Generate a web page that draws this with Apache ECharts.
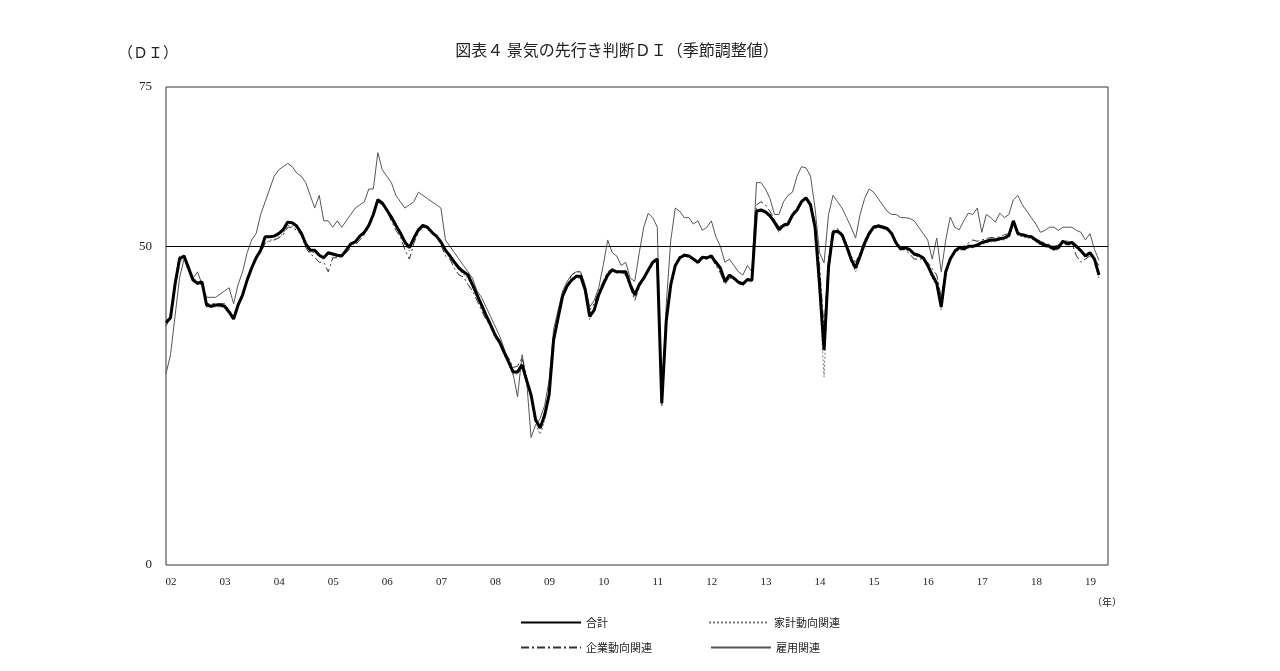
<!DOCTYPE html>
<html><head><meta charset="utf-8">
<script src="https://cdn.jsdelivr.net/npm/echarts@6/dist/echarts.min.js"></script>
<style>html,body{margin:0;padding:0;background:#fff}#c{width:1280px;height:671px}</style>
</head><body><div id="c"></div>
<script>
const total = [
38,38.8,44,48,48.5,46.6,44.7,44.2,44.4,40.8,40.6,40.8,
40.8,40.6,39.7,38.6,40.8,42.4,44.7,46.6,48.2,49.4,51.5,51.5,
51.6,52,52.6,53.8,53.7,53.2,52.1,50.4,49.4,49.4,48.6,48.2,
49,48.8,48.6,48.5,49.4,50.4,50.7,51.6,52.2,53.3,55,57.3,
56.8,55.7,54.6,53.3,52.1,50.7,49.8,51.3,52.6,53.3,53,52.2,
51.6,50.7,49.4,48.5,47.5,46.6,46,45.5,44,42.4,40.8,39.2,
37.7,36.1,35,33.4,31.9,30.3,30.3,31.4,29,26.7,22.8,21.5,
23.5,26.7,35.3,38.8,42.2,43.8,44.7,45.3,45.3,43.2,39,40,
42.4,44,45.5,46.3,46,46,46,44,42.4,44,45,46.3,
47.5,48,25.4,38.4,44,47,48.2,48.6,48.5,48,47.5,48.3,
48.2,48.5,47.5,46.6,44.5,45.5,45,44.4,44.1,44.8,44.7,55.5,
55.7,55.4,54.8,53.8,52.6,53.3,53.5,54.9,55.7,57,57.6,56.5,
53,44,33.7,46.8,52.2,52.4,51.8,50,48,46.6,48.5,50.5,
52,53,53.2,53,52.8,52,50.5,49.6,49.8,49.5,48.8,48.6,
48.2,47,45.5,44.2,40.5,46,48,49.2,49.8,49.6,50,50,
50.2,50.6,50.8,51,51,51.2,51.3,51.7,54,52,51.8,51.6,
51.5,51,50.5,50.2,50,49.6,49.8,50.8,50.4,50.6,50,49.3,
48.5,49,48,45.5];
const household = [
38.5,38.5,43.5,47.5,48,46,44.5,44,44,40.5,40.5,40.5,
40.5,40.5,39.5,38.5,40.5,42,44.5,46.5,48,49,50.5,51,
51,51.5,52,53.3,53.2,52.8,51.8,50,49,49,48.5,48,
48.8,48.5,48.4,48.3,49.2,50.2,50.5,51.4,52,53,54.7,57,
56.5,55.5,54.3,53,51.8,50.2,49.3,51,52.4,53,52.8,52,
51.4,50.5,49,48.2,47.2,46.3,45.6,45,43.6,42,40.4,38.8,
37.3,35.7,34.6,33,31.5,29.8,30,31,28.5,26,22,20.5,
22.5,26,35,38.5,42,43.5,44.5,45,45,43,38.5,39.8,
42.2,43.8,45.3,46.1,45.8,45.8,45.8,43.7,42,43.8,44.8,46,
47.2,47.8,25,38,43.8,46.8,48,48.4,48.3,47.8,47.2,48,
48,48.3,47.2,46.3,44.2,45.2,44.8,44.1,43.8,44.5,44.4,55.2,
55.5,55.2,54.5,53.5,52.2,53,53.2,54.6,55.5,56.8,57.4,56.2,
52.5,42,29.5,45.5,51.8,52,51.5,49.6,47.5,46,48,50,
51.6,52.7,53,52.8,52.5,51.8,50.2,49.3,49.5,49.2,48.5,48.3,
48,46.7,45,43.8,40,45.5,47.7,49,49.5,49.3,49.7,49.8,
50,50.3,50.5,50.7,50.8,51,51,51.4,53.5,51.7,51.5,51.3,
51.2,50.7,50.2,49.9,49.7,49.3,49.5,50.5,50.1,50.3,49.7,49,
48.2,48.7,47.7,45];
const corporate = [
37.5,39,44.5,48.5,48.5,47,45,44.5,44.5,41,41,41,
41,41,40,39,41,42.5,45,46.5,48,49,50.5,50.8,
51,51.3,51.8,53,53,52.5,51.8,49.8,48.8,48.3,47.5,47.5,
46,48.2,48.2,48.5,49,49.8,50.2,51,51.8,53,55,57,
56.5,55.5,54,52.5,51.5,49.5,48,50.5,52.2,53,52.8,52,
51.5,50.2,48.5,48,46.5,45.5,45.2,44,43,41.5,40,38.5,
37.5,36,35.2,33.5,32.5,31,31.2,32.5,29.5,26,23,21.5,
24,27,35,38.5,42.5,44,45.5,46,46,43.5,40,41,
43,44.5,46,46.5,46,46,45.5,43.5,41.5,43.5,45,46,
47.3,48,26,38,44,47,48.5,48.8,48.5,48,47.5,48,
48,48.2,47,45.8,44,45,44.8,44.2,44,45,44.5,56.5,
57,56.5,55.5,54.2,53,53.5,53.8,55.2,56,57.3,57.5,56.5,
54,47,37,48,52.5,52.8,52,50.4,48.5,47.5,49,51,
52.3,53.2,53.4,53.2,53,52.2,50.8,49.5,49.5,48.8,48,48,
48,47.5,46.5,45.5,42,46.5,48.2,49.5,50,50,50.5,51,
50.8,51,51.2,51.4,51.3,51.5,51.8,52,53.5,52.2,52,51.8,
51.5,51.2,50.8,50.5,50.3,50,50.2,51,50.8,50.5,48.5,47.5,
48,48.5,48,47];
const employment = [
30,33,39,45,48,47,45,46,44,42,42,42,
42.5,43,43.5,41,44,46,49,51,52,55,57,59,
61,62,62.5,63,62.5,61.5,61,60,58,56,58,54,
54,53,54,53,54,55,56,56.5,57,59,59,64.7,
62,61,60,58,57,56,56.5,57,58.5,58,57.5,57,
56.5,56,51,50,49,48,47,46,45,43,42,40.5,
39,37.5,36,34,32,30,26.4,33,29,20,22,23,
25,29,37,40,43,44.5,45.5,46,46,44,40.5,41.5,
43.5,47,51,49,48.5,47,47.5,45,44.5,49,53,55.2,
54.5,53,25,41,51,56,55.5,54.5,54.5,53.5,54,52.5,
53,54,51.5,50,47.5,48,47,46,45.5,47,46,60,
60,59,57.5,55,55,57,58,58.5,61,62.5,62.3,61,
56,49,47.4,55,58,57,56,54.5,53,51.3,55,57.5,
59,58.5,57.5,56.5,55.5,55,55,54.5,54.5,54.4,54,53,
52,51,48,51.3,46,51,54.6,53,52.6,54,55.2,55,
56,52.2,55,54.5,53.8,55.2,54.5,55,57.3,58,56.5,55.5,
54.5,53.5,52.2,52.5,53,53,52.5,53,53,53,52.5,52.2,
51,52,49.5,47.8];
const seriesNames = ['合計','家計動向関連','企業動向関連','雇用関連'];
const yTickLabels = {0:'0',50:'50',75:'75'};
const months = [];
for (let y = 2002; y <= 2019; y++) for (let m = 1; m <= 12; m++) { if (months.length < 210) months.push(y + '-' + m); }

const chart = echarts.init(document.getElementById('c'));
const f = 'serif';
const lg = {left:515,itemWidth:60,itemHeight:10,itemStyle:{opacity:0},
  textStyle:{fontSize:11,color:'#222',fontFamily:'Noto Sans CJK JP'}};
chart.setOption({
  animation:false,
  title:{text:'図表４ 景気の先行き判断ＤＩ（季節調整値）',left:612,top:37,textAlign:'center',
    textStyle:{fontSize:16,fontWeight:'normal',color:'#222',fontFamily:'Noto Sans CJK JP'}},
  graphic:[
    {type:'text',left:118,top:45,style:{text:'（ＤＩ）',fontSize:15,fill:'#222',fontFamily:'Noto Sans CJK JP'}},
    {type:'text',left:1092,top:597,style:{text:'（年）',fontSize:10,fill:'#222',fontFamily:'Noto Sans CJK JP'}}
  ],
  legend:[
    Object.assign({data:['合計','家計動向関連'],top:612,itemGap:100},lg),
    Object.assign({data:['企業動向関連','雇用関連'],top:637,itemGap:58},lg)
  ],
  grid:{left:166,right:172,top:87,bottom:106,show:true,borderColor:'#333',borderWidth:1},
  xAxis:{type:'category',data:months,boundaryGap:false,
    axisLine:{show:false},axisTick:{show:false},
    axisLabel:{interval:(i)=>i%12===0,formatter:(v)=>v.slice(2,4),fontSize:11,color:'#222',fontFamily:f,margin:12,padding:[0,0,0,10]}},
  yAxis:{type:'value',min:0,max:75,interval:25,
    axisLine:{show:false},axisTick:{show:false},splitLine:{show:false},
    axisLabel:{formatter:(v)=>yTickLabels[v]||'',fontSize:13,color:'#222',fontFamily:f,margin:14}},
  series:[
    {name:seriesNames[0],type:'line',data:total,symbol:'none',z:5,lineStyle:{color:'#000',width:3},itemStyle:{color:'#000'},
     markLine:{silent:true,symbol:'none',label:{show:false},lineStyle:{color:'#000',width:1,type:'solid'},data:[{yAxis:50}]}},
    {name:seriesNames[1],type:'line',data:household,symbol:'none',z:3,lineStyle:{color:'#777',width:1,type:[2,2]},itemStyle:{color:'#777'}},
    {name:seriesNames[2],type:'line',data:corporate,symbol:'none',z:3,lineStyle:{color:'#333',width:1,type:[8,3,2,3]},itemStyle:{color:'#333'}},
    {name:seriesNames[3],type:'line',data:employment,symbol:'none',z:2,lineStyle:{color:'#555',width:1},itemStyle:{color:'#555'}}
  ]
});
</script></body></html>
